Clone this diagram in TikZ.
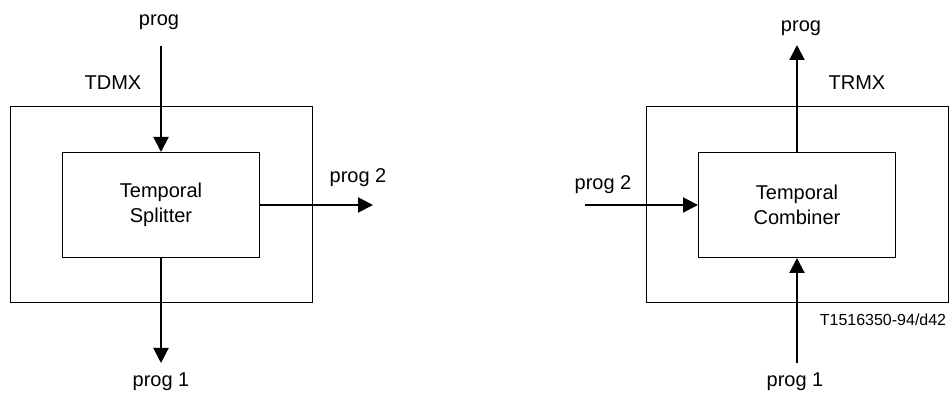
\documentclass[tikz,border=0pt]{standalone}
\usepackage{fontspec}
\setmainfont{Liberation Sans}
\usepackage{tikz}
\usetikzlibrary{positioning, arrows.meta}

\begin{document}
\begin{tikzpicture}[
        x=0.5pt, y=0.5pt,
        outerbox/.style={rectangle, draw, line width=0.5pt, minimum width=151pt,
                         minimum height=98pt},
        innerbox/.style={rectangle, draw, line width=0.5pt, minimum width=98.5pt,
                         minimum height=52.5pt, align=center,
                         font=\fontsize{10}{12.5}\selectfont},
        lbl/.style={font=\fontsize{10}{12}\selectfont, inner sep=0pt},
        codelbl/.style={font=\fontsize{8}{10}\selectfont, inner sep=0pt},
        arrow/.style={-{Triangle[length=7.5pt, width=7.5pt]}, line width=1pt}
    ]
    \useasboundingbox (0,0) rectangle (949,394);

    %% TDMX: Temporal Splitter
    \node[outerbox] (tdmx) at (161,189) {};
    \node[innerbox] (splitter) at (161,189) {Temporal\\Splitter};
    \node[lbl] (tdmxlbl) at (113,311) {TDMX};

    \node[lbl] (splitprog) at (159,372) {prog};
    \coordinate (splitin) at (161,348);
    \draw[arrow] (splitin) -- (splitter.north);

    \coordinate (splitouttwo) at (373,189);
    \node[lbl] (splitprogtwo) at (358,216) {prog 2};
    \draw[arrow] (splitter.east) -- (splitouttwo);

    \coordinate (splitoutone) at (161,31);
    \node[lbl] (splitprogone) at (161,12) {prog 1};
    \draw[arrow] (splitter.south) -- (splitoutone);

    %% TRMX: Temporal Combiner
    \node[outerbox] (trmx) at (797,189) {};
    \node[innerbox] (combiner) at (797,189) {Temporal\\Combiner};
    \node[lbl] (trmxlbl) at (857,311) {TRMX};

    \coordinate (combout) at (797,349);
    \node[lbl] (combprog) at (801,366) {prog};
    \draw[arrow] (combiner.north) -- (combout);

    \coordinate (combintwo) at (585,189);
    \node[lbl] (combprogtwo) at (603,209) {prog 2};
    \draw[arrow] (combintwo) -- (combiner.west);

    \coordinate (combinone) at (797,31);
    \node[lbl] (combprogone) at (795,12) {prog 1};
    \draw[arrow] (combinone) -- (combiner.south);

    \node[codelbl] (figcode) at (883,74) {T1516350-94/d42};

    \end{tikzpicture}
\end{document}
